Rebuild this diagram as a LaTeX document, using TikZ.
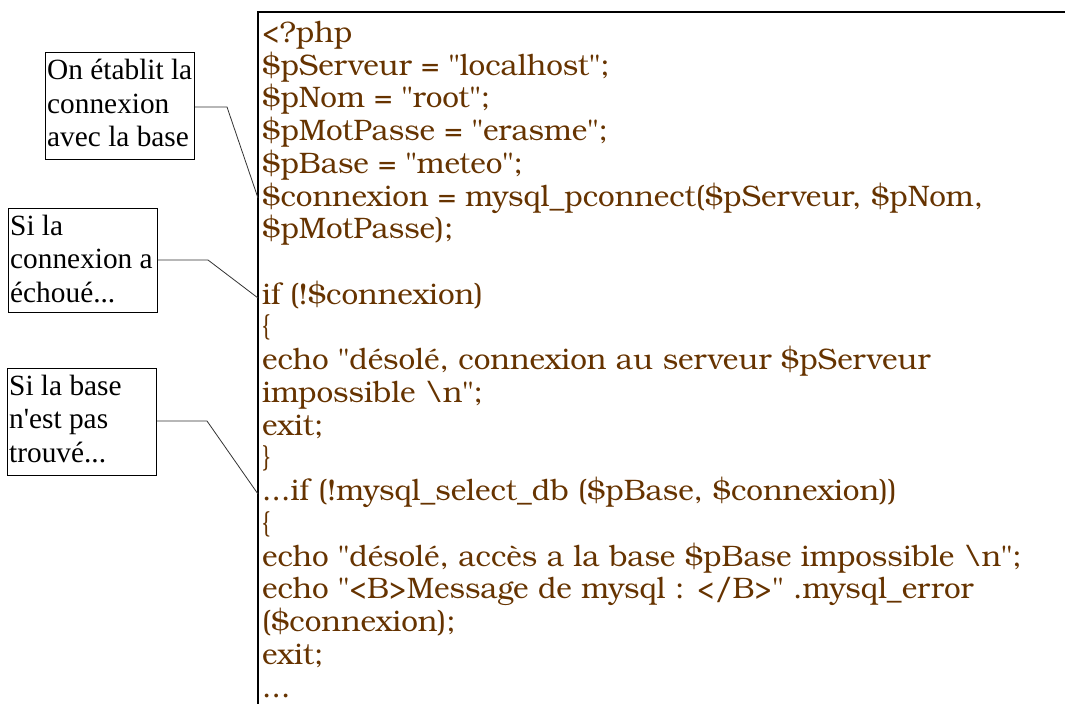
\documentclass[tikz,border=0pt]{standalone}
\usepackage{fontspec}
\setmainfont{Liberation Serif}[Ligatures=TeXOff]
\newfontfamily\codefont{texgyrebonum-regular.otf}[Ligatures=TeXOff]
\definecolor{codebrown}{RGB}{102,51,0}
\newcommand\threedots{...}
\newlength\codew
\newlength\labw
\begin{document}
\settowidth{\codew}{\codefont\fontsize{10pt}{12pt}\selectfont\$connexion = mysql\_pconnect(\$pServeur, \$pNom,}%
\settowidth{\labw}{\fontsize{10pt}{12pt}\selectfont On établit la}%
\pgfmathsetmacro\codesz{10*721/\codew}%
\pgfmathsetmacro\labsz{10*145/\labw}%
\begin{tikzpicture}[x=1pt,y=-1pt]
\tikzset{
  codeline/.style={font=\codefont\fontsize{\codesz pt}{\codesz pt}\selectfont, text=codebrown, anchor=base west, inner sep=0pt},
  labline/.style={font=\fontsize{\labsz pt}{\labsz pt}\selectfont, text=black, anchor=base west, inner sep=0pt},
  labbox/.style={draw=black, line width=0.9pt, anchor=north west, inner sep=0pt},
  conn/.style={draw=black!80, line width=0.8pt},
  codeframe/.style={draw=black, line width=1.3pt}
}
\useasboundingbox (0,0) rectangle (1065,704);
% code frame (open to the right and bottom)
\coordinate (ftr) at (1065,12);
\coordinate (ftl) at (258,12);
\coordinate (fbl) at (258,704);
\draw[codeframe] (ftr) -- (ftl) -- (fbl);
% code lines
\foreach \t [count=\i from 0] in {
  {<?php},
  {\$pServeur = "localhost";},
  {\$pNom = "root";},
  {\$pMotPasse = "erasme";},
  {\$pBase = "meteo";},
  {\$connexion = mysql\_pconnect(\$pServeur, \$pNom,},
  {\$pMotPasse);},
  {},
  {if (!\$connexion)},
  {\{},
  {echo "désolé, connexion au serveur \$pServeur},
  {impossible \textbackslash n";},
  {exit;},
  {\}},
  {\threedots if (!mysql\_select\_db (\$pBase, \$connexion))},
  {\{},
  {echo "désolé, accès a la base \$pBase impossible \textbackslash n";},
  {echo "<B>Message de mysql : </B>" .mysql\_error},
  {(\$connexion);},
  {exit;},
  {\threedots}
}{
  \node[codeline] (code\i) at (262, 42.3+32.74*\i) {\t};
}
% label boxes
\node[labbox, minimum width=149, minimum height=107] (b1) at (45,52) {};
\node[labbox, minimum width=149, minimum height=104] (b2) at (8,208) {};
\node[labbox, minimum width=149, minimum height=107] (b3) at (7,368) {};
% label texts
\node[labline] (b1t1) at (47,79.8) {On établit la};
\node[labline] (b1t2) at (47,113.3) {connexion};
\node[labline] (b1t3) at (47,146.8) {avec la base};
\node[labline] (b2t1) at (10,235.3) {Si la};
\node[labline] (b2t2) at (10,268.8) {connexion a};
\node[labline] (b2t3) at (10,302.3) {échoué\threedots};
\node[labline] (b3t1) at (9,395.2) {Si la base};
\node[labline] (b3t2) at (9,428.7) {n'est pas};
\node[labline] (b3t3) at (9,462.2) {trouvé\threedots};
% connectors
\coordinate (k1) at (227,107);
\coordinate (p1) at (258,198);
\coordinate (k2) at (208,260);
\coordinate (p2) at (258,298);
\coordinate (k3) at (207,421);
\coordinate (p3) at (258,494);
\draw[conn] (b1.east |- k1) -- (k1) -- (p1);
\draw[conn] (b2.east |- k2) -- (k2) -- (p2);
\draw[conn] (b3.east |- k3) -- (k3) -- (p3);
\end{tikzpicture}
\end{document}
